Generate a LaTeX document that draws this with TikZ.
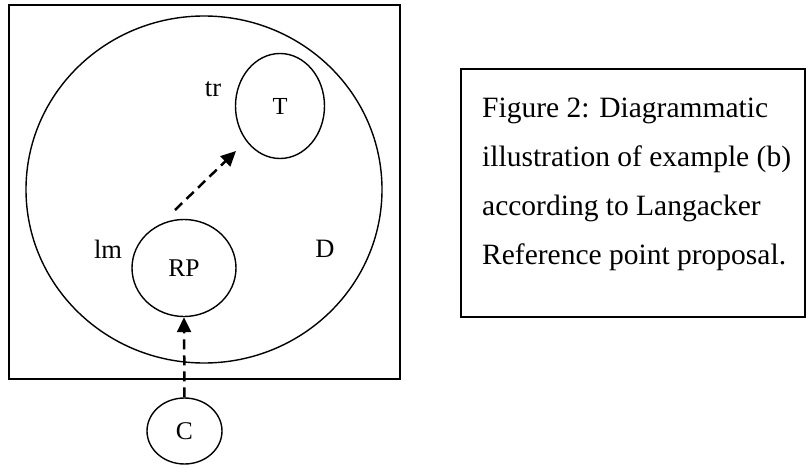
\documentclass[tikz,border=0pt]{standalone}
\usepackage{fontspec}
\setmainfont{Liberation Serif}
\usetikzlibrary{shapes.geometric,arrows.meta}
\begin{document}
\begin{tikzpicture}[x=1pt,y=-1pt,
  ell/.style={draw, ellipse, line width=1.4pt, inner sep=0pt},
  lbl/.style={font=\fontsize{26.5}{30}\selectfont, inner sep=0pt},
  darr/.style={-{Triangle[length=15pt,width=14pt]}, line width=2.5pt, dash pattern=on 10pt off 6pt}]
\useasboundingbox (0,0) rectangle (806,468);
% outer frame
\node[draw, line width=2.4pt, minimum width=391pt, minimum height=374pt, inner sep=0pt] (frame) at (204.5,192) {};
% big domain ellipse
\node[ell, minimum width=356pt, minimum height=347pt] (Dom) at (204,189.5) {};
% target
\node[ell, minimum width=89pt, minimum height=105pt, font=\fontsize{24.5}{28}\selectfont] (T) at (280,106) {T};
% reference point
\node[ell, minimum width=104pt, minimum height=97pt, font=\fontsize{25.5}{28}\selectfont] (RP) at (184,268) {RP};
% conceptualizer
\node[ell, minimum width=75pt, minimum height=66pt, font=\fontsize{25.5}{28}\selectfont] (C) at (184.5,431) {C};
% labels
\node[lbl] (tr) at (213,89) {tr};
\node[lbl] (lm) at (108,249) {lm};
\node[lbl] (D) at (325,249) {D};
% arrows
\coordinate (a1s) at (175,210);
\coordinate (a1e) at (236,151);
\draw[darr] (a1s) -- (a1e);
\draw[darr] (C.north) -- (RP.south);
% caption
\node[draw, line width=2.2pt, minimum width=344pt, minimum height=248pt, inner sep=0pt] (capbox) at (633,193) {};
\node[anchor=west, inner sep=0pt, align=left, font=\fontsize{29.5}{49}\selectfont] (cap) at (482,184)
  {Figure 2: Diagrammatic\\illustration of example (b)\\according to Langacker\\Reference point proposal.};
\end{tikzpicture}
\end{document}
